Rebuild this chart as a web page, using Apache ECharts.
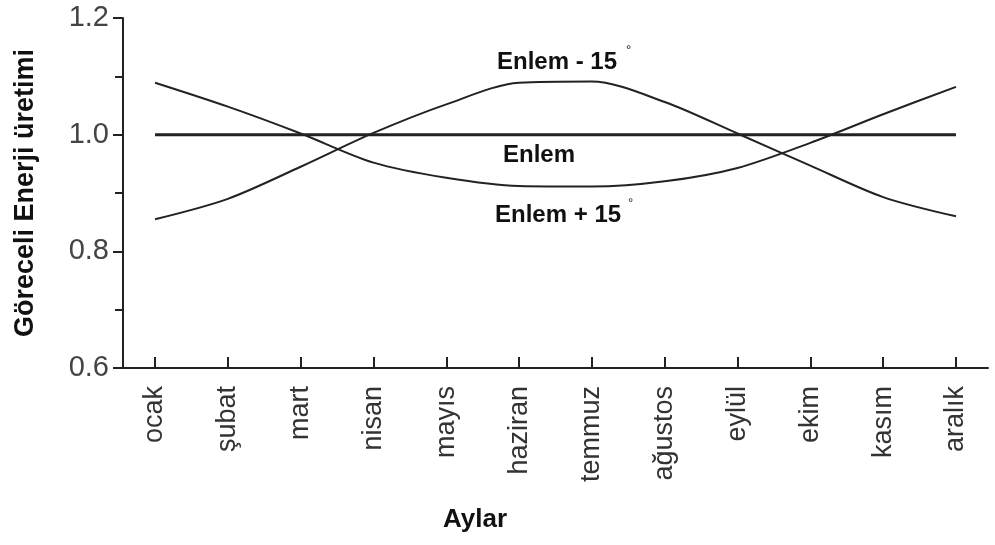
<!DOCTYPE html>
<html>
<head>
<meta charset="utf-8">
<script src="https://cdn.jsdelivr.net/npm/echarts@6/dist/echarts.min.js"></script>
<style>
  html, body { margin: 0; padding: 0; background: #fff; }
  #chart { width: 995px; height: 545px; }
</style>
</head>
<body>
<div id="chart"></div>
<script>
// aylar ve seriler
const months = ['ocak', 'şubat', 'mart', 'nisan', 'mayıs', 'haziran', 'temmuz', 'ağustos', 'eylül', 'ekim', 'kasım', 'aralık']
const enlem = [1, 1, 1, 1, 1, 1, 1, 1, 1, 1, 1, 1]
const enlemMinus15 = [0.855, 0.89, 0.945, 1.003, 1.052, 1.089, 1.091, 1.056, 1.002, 0.947, 0.893, 0.86]
const enlemPlus15 = [1.089, 1.048, 1.002, 0.952, 0.926, 0.912, 0.911, 0.92, 0.943, 0.986, 1.035, 1.082]
const yTicks = [0.6, 0.8, 1.0, 1.2]

const font = 'Liberation Sans, Arial, sans-serif'
const ink = '#222'
const toPairs = arr => arr.map((v, i) => [i, v])
const monthIdx = months.map((m, i) => i)

const chart = echarts.init(document.getElementById('chart'))

const lineSeries = (name, data, width, smooth) => ({
  name,
  type: 'line',
  data: toPairs(data),
  smooth,
  showSymbol: false,
  lineStyle: { color: ink, width },
  silent: true
})

chart.setOption({
  backgroundColor: '#fff',
  animation: false,
  grid: { left: 123, right: 7, top: 18, bottom: 177, containLabel: false, outerBoundsMode: 'none' },
  xAxis: {
    type: 'value',
    min: -0.44,
    max: 11.44,
    axisLine: { show: true, onZero: false, lineStyle: { color: ink, width: 2 } },
    axisTick: { show: true, inside: true, length: 11, customValues: monthIdx, lineStyle: { color: ink, width: 2 } },
    axisLabel: {
      customValues: monthIdx,
      rotate: 90,
      margin: 18,
      fontFamily: font,
      fontSize: 27,
      color: '#333',
      formatter: v => months[Math.round(v)]
    },
    splitLine: { show: false }
  },
  yAxis: {
    type: 'value',
    min: yTicks[0],
    max: yTicks[yTicks.length - 1],
    interval: 0.2,
    name: 'Göreceli Enerji üretimi',
    nameLocation: 'middle',
    nameGap: 84,
    nameTextStyle: { fontFamily: font, fontSize: 27, fontWeight: 'bold', color: '#111' },
    axisLine: { show: true, onZero: false, lineStyle: { color: ink, width: 2 } },
    axisTick: { show: true, length: 10, lineStyle: { color: ink, width: 2 } },
    minorTick: { show: true, splitNumber: 2, length: 8, lineStyle: { color: ink, width: 2 } },
    axisLabel: {
      margin: 14,
      fontFamily: font,
      fontSize: 29,
      color: '#444',
      formatter: v => v.toFixed(1)
    },
    splitLine: { show: false }
  },
  series: [
    lineSeries('Enlem', enlem, 3, false),
    lineSeries('Enlem - 15°', enlemMinus15, 2, 0.3),
    lineSeries('Enlem + 15°', enlemPlus15, 2, 0.3)
  ],
  graphic: [
    {
      type: 'text', left: 497, top: 50,
      style: { text: 'Enlem - 15', font: 'bold 24px ' + font, fill: '#111' }
    },
    {
      type: 'text', left: 626, top: 44,
      style: { text: '°', font: '13px ' + font, fill: '#111' }
    },
    {
      type: 'text', left: 503, top: 143,
      style: { text: 'Enlem', font: 'bold 24px ' + font, fill: '#111' }
    },
    {
      type: 'text', left: 495, top: 203,
      style: { text: 'Enlem + 15', font: 'bold 24px ' + font, fill: '#111' }
    },
    {
      type: 'text', left: 628, top: 197,
      style: { text: '°', font: '13px ' + font, fill: '#111' }
    },
    {
      type: 'text', left: 443, top: 507,
      style: { text: 'Aylar', font: 'bold 26px ' + font, fill: '#111' }
    }
  ]
})
</script>
</body>
</html>
